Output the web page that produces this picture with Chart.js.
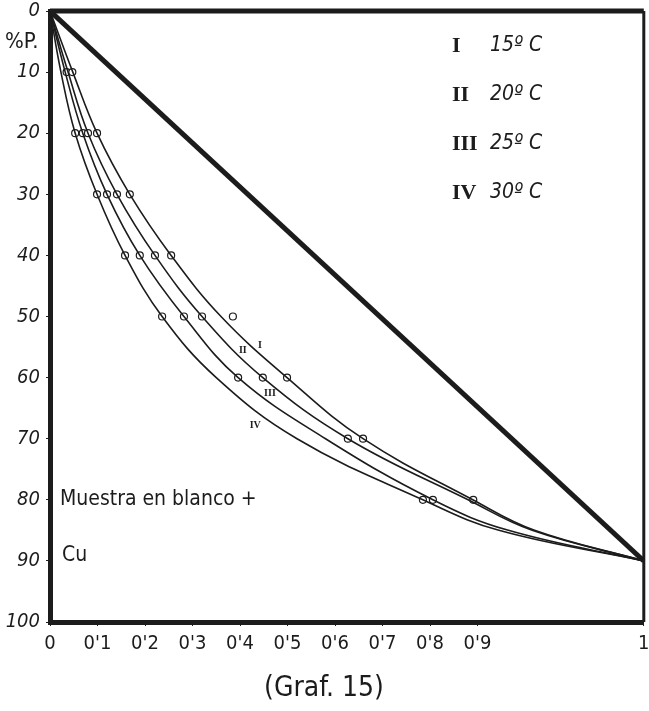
<!DOCTYPE html>
<html>
<head>
<meta charset="utf-8">
<script src="https://cdn.jsdelivr.net/npm/chart.js@4.4.1/dist/chart.umd.min.js"></script>
<style>
  html, body { margin: 0; padding: 0; background: #fff; }
  #wrap { width: 649px; height: 711px; position: relative; }
</style>
</head>
<body>
<div id="wrap"><canvas id="graf"></canvas></div>
<script>
// % P. levels (y axis) at which the curves were read
const pctLevels = [0, 10, 20, 30, 40, 50, 60, 70, 80, 85, 90];

// x position of each curve at those levels (drawn scale, right border = "1")
const X_END = 1.25;
const curve15 = [0, 0.048, 0.099, 0.168, 0.255, 0.36, 0.499, 0.659, 0.89, 1.02, X_END];
const curve20 = [0, 0.038, 0.08, 0.141, 0.221, 0.32, 0.448, 0.627, 0.88, 1.015, X_END];
const curve25 = [0, 0.032, 0.069, 0.12, 0.189, 0.282, 0.396, 0.58, 0.806, 0.965, X_END];
const curve30 = [0, 0.023, 0.053, 0.099, 0.158, 0.236, 0.35, 0.52, 0.785, 0.945, X_END];

// measured points (little circles), null where there is none
const obs15 = [null, 0.047, 0.099, 0.168, 0.255, 0.385, 0.499, 0.659, 0.891, null, null];
const obs20 = [null, 0.035, 0.08, 0.141, 0.221, 0.32, 0.448, 0.627, null, null, null];
const obs25 = [null, null, 0.069, 0.12, 0.189, 0.282, 0.396, null, 0.806, null, null];
const obs30 = [null, null, 0.053, 0.099, 0.158, 0.236, null, null, 0.785, null, null];

// straight reference line
const diagX = [0, X_END];
const diagY = [0, 90];

// tick labels
const xTickValues = [0, 0.1, 0.2, 0.3, 0.4, 0.5, 0.6, 0.7, 0.8, 0.9, X_END];
const xTickLabels = ["0", "0'1", "0'2", "0'3", "0'4", "0'5", "0'6", "0'7", "0'8", "0'9", "1"];

// legend + curve tags
const legendRoman = ["I", "II", "III", "IV"];
const legendTemps = ["15º C", "20º C", "25º C", "30º C"];
const curveTags = [
  { text: "I", x: 0.442, y: 54.7 },
  { text: "II", x: 0.406, y: 55.6 },
  { text: "III", x: 0.463, y: 62.6 },
  { text: "IV", x: 0.432, y: 67.8 }
];

const INK = '#1c1c1c';
const NARROW = "'Liberation Sans Narrow', 'DejaVu Sans Condensed', 'Roboto', sans-serif";

function toPoints(xs) {
  const pts = [];
  xs.forEach((x, i) => { if (x !== null) pts.push({ x: x, y: pctLevels[i] }); });
  return pts;
}

function curveSet(xs) {
  return {
    type: 'line',
    data: toPoints(xs),
    borderColor: INK,
    borderWidth: 1.6,
    pointRadius: 0,
    fill: false,
    tension: 0.4
  };
}

function obsSet(xs) {
  return {
    type: 'scatter',
    data: toPoints(xs),
    pointStyle: 'circle',
    pointRadius: 3.5,
    pointBackgroundColor: '#fff',
    pointBorderColor: INK,
    pointBorderWidth: 1.2,
    showLine: false
  };
}

// frame, legend and hand written notes
const extras = {
  id: 'extras',
  afterDatasetsDraw(chart) {
    const ctx = chart.ctx;
    const a = chart.chartArea;
    const xs = chart.scales.x, ys = chart.scales.y;
    ctx.save();
    ctx.strokeStyle = INK;
    ctx.lineWidth = 5;
    ctx.beginPath();
    ctx.moveTo(a.left, a.top);
    ctx.lineTo(a.right, a.top);
    ctx.stroke();
    ctx.lineWidth = 3;
    ctx.beginPath();
    ctx.moveTo(a.right, a.top);
    ctx.lineTo(a.right, a.bottom);
    ctx.stroke();

    ctx.fillStyle = INK;
    ctx.textBaseline = 'middle';

    // legend
    for (let i = 0; i < legendRoman.length; i++) {
      const y = 46 + i * 49;
      ctx.font = "bold 22px 'Liberation Serif', 'DejaVu Serif', serif";
      ctx.textAlign = 'left';
      ctx.fillText(legendRoman[i], 452, y);
      ctx.font = "italic 21px " + NARROW;
      ctx.fillText(legendTemps[i], 490, y);
    }

    // small roman tags on the curves
    ctx.font = "bold 10px 'Liberation Serif', serif";
    ctx.textAlign = 'center';
    curveTags.forEach(t => ctx.fillText(t.text, xs.getPixelForValue(t.x), ys.getPixelForValue(t.y)));

    // notes
    ctx.textAlign = 'left';
    ctx.font = "21px " + NARROW;
    ctx.fillText("Muestra en blanco +", 60, 500);
    ctx.fillText("Cu", 62, 556);
    ctx.font = "22px " + NARROW;
    ctx.fillText("%P.", 5, 42);

    ctx.textAlign = 'center';
    ctx.font = "28px " + NARROW;
    ctx.fillText("(Graf. 15)", 324, 689);
    ctx.restore();
  }
};

new Chart(document.getElementById('graf'), {
  data: {
    datasets: [
      {
        type: 'line',
        data: diagX.map((x, i) => ({ x: x, y: diagY[i] })),
        borderColor: INK,
        borderWidth: 5,
        pointRadius: 0
      },
      curveSet(curve15), curveSet(curve20), curveSet(curve25), curveSet(curve30),
      obsSet(obs15), obsSet(obs20), obsSet(obs25), obsSet(obs30)
    ]
  },
  options: {
    responsive: true,
    maintainAspectRatio: false,
    animation: false,
    layout: { padding: { left: 0, top: 11, right: 4, bottom: 0 } },
    plugins: { legend: { display: false }, tooltip: { enabled: false } },
    scales: {
      x: {
        type: 'linear',
        position: 'bottom',
        min: 0,
        max: X_END,
        afterFit(s) { s.height = 89; s.paddingLeft = 0; s.paddingRight = 0; },
        afterBuildTicks(s) { s.ticks = xTickValues.map(v => ({ value: v })); },
        border: { display: true, width: 5, color: INK },
        grid: { display: true, drawOnChartArea: false, tickLength: 4, color: INK, lineWidth: 1 },
        ticks: {
          color: INK,
          padding: 6,
          maxRotation: 0,
          autoSkip: false,
          font: { family: NARROW, size: 20 },
          callback(v) {
            const i = xTickValues.findIndex(t => Math.abs(t - v) < 1e-6);
            return i >= 0 ? xTickLabels[i] : '';
          }
        }
      },
      y: {
        type: 'linear',
        position: 'left',
        reverse: true,
        min: 0,
        max: 100,
        afterFit(s) { s.width = 50; s.paddingTop = 0; s.paddingBottom = 0; },
        border: { display: true, width: 5, color: INK },
        grid: { display: true, drawOnChartArea: false, tickLength: 4, color: INK, lineWidth: 1 },
        ticks: {
          stepSize: 10,
          color: INK,
          padding: 6,
          font: { family: NARROW, size: 20, style: 'italic' }
        }
      }
    }
  },
  plugins: [extras]
});
</script>
</body>
</html>
